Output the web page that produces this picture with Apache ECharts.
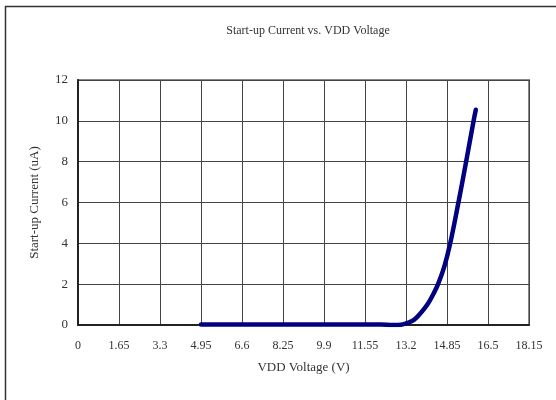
<!DOCTYPE html>
<html>
<head>
<meta charset="utf-8">
<script src="https://cdn.jsdelivr.net/npm/echarts@6/dist/echarts.min.js"></script>
<style>html,body{margin:0;padding:0;background:#fff;}#c{width:556px;height:400px;}</style>
</head>
<body>
<div id="c"></div>
<script>
var titleText = 'Start-up Current vs. VDD Voltage';
var xName = 'VDD Voltage (V)';
var yName = 'Start-up Current (uA)';
var voltage = [4.95, 6.6, 8.25, 9.9, 11.55, 12.2, 12.7, 13.0, 13.2, 13.52, 13.8, 14.06, 14.3, 14.49, 14.75, 14.98, 15.31, 15.62, 15.92, 16.01];
var current = [0.03, 0.03, 0.03, 0.03, 0.03, 0.02, 0.0, 0.01, 0.08, 0.25, 0.6, 1.0, 1.52, 2.0, 2.9, 4.0, 6.0, 8.0, 10.0, 10.54];
var xTicks = ['0','1.65','3.3','4.95','6.6','8.25','9.9','11.55','13.2','14.85','16.5','18.15'];

var data = voltage.map(function (v, i) { return [v, current[i]]; });
var font = 'Liberation Serif';
var chart = echarts.init(document.getElementById('c'));
chart.setOption({
  animation: false,
  backgroundColor: '#fff',
  title: {
    text: titleText, left: 303, top: 20, textAlign: 'center',
    textStyle: { fontFamily: font, fontSize: 12, fontWeight: 'normal', color: '#333' }
  },
  graphic: [{
    type: 'rect', left: 3, top: 4, z: 100,
    shape: { x: 0, y: 0, width: 700, height: 600 },
    style: { fill: 'none', stroke: '#333', lineWidth: 1.5 }
  }],
  grid: { left: 78, right: 27, top: 80, bottom: 75, show: true, borderColor: '#888', borderWidth: 2, backgroundColor: 'transparent' },
  xAxis: {
    type: 'value', min: 0, max: 18.15, interval: 1.65,
    name: xName, nameLocation: 'middle', nameGap: 36,
    nameTextStyle: { fontFamily: font, fontSize: 13, color: '#333' },
    axisLine: { show: true, lineStyle: { color: '#222', width: 2 } },
    axisTick: { show: false },
    splitLine: { show: true, lineStyle: { color: '#444', width: 1 } },
    axisLabel: {
      fontFamily: font, fontSize: 12, color: '#333', margin: 15,
      formatter: function (v) { var i = Math.round(v / 1.65); return xTicks[i] !== undefined ? xTicks[i] : ''; }
    }
  },
  yAxis: {
    type: 'value', min: 0, max: 12, interval: 2,
    name: yName, nameLocation: 'middle', nameGap: 37, nameRotate: 90,
    nameTextStyle: { fontFamily: font, fontSize: 13, color: '#333' },
    axisLine: { show: true, lineStyle: { color: '#222', width: 2 } },
    axisTick: { show: false },
    splitLine: { show: true, lineStyle: { color: '#444', width: 1 } },
    axisLabel: { fontFamily: font, fontSize: 13, color: '#333', margin: 10 }
  },
  series: [{
    type: 'line', data: data, smooth: 0.4, showSymbol: false,
    lineStyle: { color: '#000080', width: 4.5, cap: 'round' }
  }]
});
</script>
</body>
</html>
